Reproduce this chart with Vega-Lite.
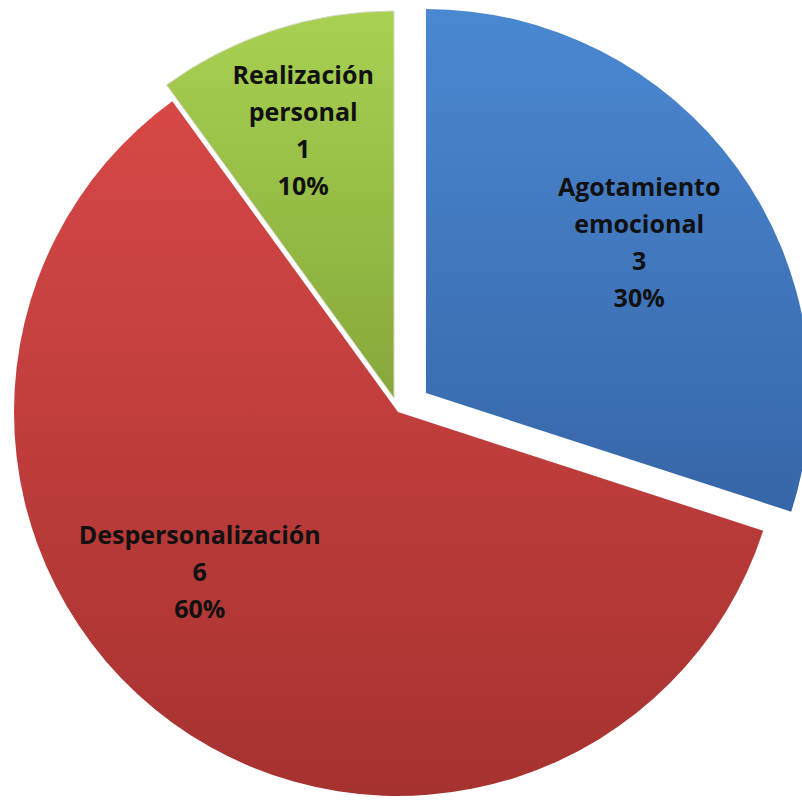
{
  "$schema": "https://vega.github.io/schema/vega-lite/v6.json",
  "width": 796,
  "height": 776,
  "padding": {"left": 0, "top": 24, "right": 6, "bottom": 0},
  "autosize": {"type": "none"},
  "background": "white",
  "config": {"view": {"stroke": null}},
  "data": {
    "values": [
      {"category": "Agotamiento emocional", "value": 3},
      {"category": "Despersonalización", "value": 6},
      {"category": "Realización personal", "value": 1}
    ]
  },
  "transform": [
    {"stack": "value", "groupby": [], "as": ["v0", "v1"], "sort": [{"field": "category", "order": "ascending"}]},
    {"joinaggregate": [{"op": "sum", "field": "value", "as": "total"}]},
    {"calculate": "(datum.v0 + datum.v1) / 2", "as": "mid"},
    {"calculate": "replace(datum.category, ' ', '\\n') + '\\n' + datum.value + '\\n' + format(datum.value / datum.total, '.0%')", "as": "label"}
  ],
  "layer": [
    {
      "transform": [{"filter": "datum.category === 'Agotamiento emocional'"}],
      "mark": {"type": "arc", "radius": 384, "xOffset": 28, "yOffset": -19,
        "fill": {"gradient": "linear", "x1": 0, "y1": 0, "x2": 0, "y2": 1,
          "stops": [{"offset": 0, "color": "#4a88d2"}, {"offset": 1, "color": "#3766a8"}]}},
      "encoding": {
        "theta": {"field": "v0", "type": "quantitative", "scale": {"domain": [0, 10]}},
        "theta2": {"field": "v1"}
      }
    },
    {
      "transform": [{"filter": "datum.category === 'Despersonalización'"}],
      "mark": {"type": "arc", "radius": 384,
        "fill": {"gradient": "linear", "x1": 0, "y1": 0, "x2": 0, "y2": 1,
          "stops": [{"offset": 0, "color": "#d64846"}, {"offset": 1, "color": "#a63230"}]}},
      "encoding": {
        "theta": {"field": "v0", "type": "quantitative", "scale": {"domain": [0, 10]}},
        "theta2": {"field": "v1"}
      }
    },
    {
      "transform": [{"filter": "datum.category === 'Realización personal'"}],
      "mark": {"type": "arc", "radius": 387, "xOffset": -4, "yOffset": -14,
        "stroke": "#d8d8c8", "strokeWidth": 1,
        "fill": {"gradient": "linear", "x1": 0, "y1": 0, "x2": 0, "y2": 1,
          "stops": [{"offset": 0, "color": "#a8d152"}, {"offset": 1, "color": "#86a83a"}]}},
      "encoding": {
        "theta": {"field": "v0", "type": "quantitative", "scale": {"domain": [0, 10]}},
        "theta2": {"field": "v1"}
      }
    },
    {
      "transform": [{"filter": "datum.category === 'Agotamiento emocional'"}],
      "mark": {"type": "text", "radius": 261, "xOffset": 28, "yOffset": -19, "dx": 2, "dy": -52,
        "font": "Open Sans", "fontWeight": "bold", "fontSize": 25, "lineHeight": 37,
        "lineBreak": "\n", "align": "center", "baseline": "middle", "color": "#111111"},
      "encoding": {
        "theta": {"field": "mid", "type": "quantitative", "scale": {"domain": [0, 10]}},
        "text": {"field": "label", "type": "nominal"}
      }
    },
    {
      "transform": [{"filter": "datum.category === 'Despersonalización'"}],
      "mark": {"type": "text", "radius": 254, "dx": -49, "dy": -81,
        "font": "Open Sans", "fontWeight": "bold", "fontSize": 25, "lineHeight": 37,
        "lineBreak": "\n", "align": "center", "baseline": "middle", "color": "#111111"},
      "encoding": {
        "theta": {"field": "mid", "type": "quantitative", "scale": {"domain": [0, 10]}},
        "text": {"field": "label", "type": "nominal"}
      }
    },
    {
      "transform": [{"filter": "datum.category === 'Realización personal'"}],
      "mark": {"type": "text", "radius": 281, "xOffset": -4, "yOffset": -14, "dx": -4, "dy": -55,
        "font": "Open Sans", "fontWeight": "bold", "fontSize": 25, "lineHeight": 37,
        "lineBreak": "\n", "align": "center", "baseline": "middle", "color": "#111111"},
      "encoding": {
        "theta": {"field": "mid", "type": "quantitative", "scale": {"domain": [0, 10]}},
        "text": {"field": "label", "type": "nominal"}
      }
    }
  ]
}
